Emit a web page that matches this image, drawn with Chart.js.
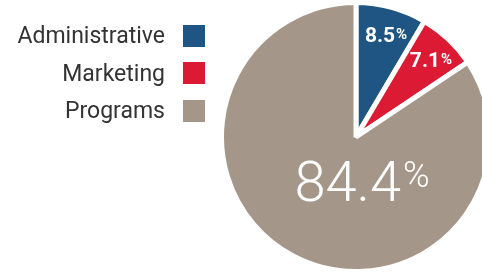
<!DOCTYPE html>
<html>
<head>
<meta charset="utf-8">
<script src="https://cdn.jsdelivr.net/npm/chart.js@4/dist/chart.umd.min.js"></script>
<style>
  html, body { margin: 0; padding: 0; background: #fff; overflow: hidden; }
  #wrap { position: relative; width: 482px; height: 273px; overflow: hidden; }
  #pie { position: absolute; left: 0; top: 0; }
  #legend { position: absolute; left: 0; top: 17px; width: 205px; font-family: Roboto, sans-serif; font-size: 23px; color: #333; }
  .row { display: flex; justify-content: flex-end; align-items: center; height: 37.5px; }
  .box { width: 22px; height: 22px; margin-left: 18px; }
</style>
</head>
<body>
<div id="wrap">
  <canvas id="pie" width="500" height="273" style="width:500px;height:273px"></canvas>
  <div id="legend"></div>
</div>
<script>
const labels = ["Administrative", "Marketing", "Programs"];
const shares = [8.5, 7.1, 84.4];
const colors = ["#1f5582", "#dc1a33", "#a49789"];

// legend built from the same arrays
const legend = document.getElementById("legend");
labels.forEach((name, i) => {
    const row = document.createElement("div");
    row.className = "row";
    const txt = document.createElement("span");
    txt.textContent = name;
    const box = document.createElement("span");
    box.className = "box";
    box.style.background = colors[i];
    row.appendChild(txt);
    row.appendChild(box);
    legend.appendChild(row);
});

function drawPct(ctx, value, x, y, weight, size, pctSize, gap) {
    const num = value.toFixed(1);
    ctx.font = weight + " " + size + "px Roboto";
    const w1 = ctx.measureText(num).width;
    ctx.font = weight + " " + pctSize + "px Roboto";
    const w2 = ctx.measureText("%").width;
    const left = x - (w1 + gap + w2) / 2;
    const base = y + size * 0.711 / 2;
    ctx.textAlign = "left";
    ctx.textBaseline = "alphabetic";
    ctx.font = weight + " " + size + "px Roboto";
    ctx.fillText(num, left, base);
    ctx.font = weight + " " + pctSize + "px Roboto";
    ctx.fillText("%", left + w1 + gap, base - 0.711 * (size - pctSize) + 1);
}

const sliceLabels = {
    id: "sliceLabels",
    afterDatasetsDraw(chart) {
        const ctx = chart.ctx;
        const meta = chart.getDatasetMeta(0);
        const big = shares.indexOf(Math.max(...shares));
        ctx.save();
        ctx.fillStyle = "#fff";
        meta.data.forEach((arc, i) => {
            const p = arc.getProps(["x", "y", "startAngle", "endAngle", "outerRadius"], true);
            const r = p.outerRadius;
            if (i === big) {
                drawPct(ctx, shares[i], p.x + 0.045 * r, p.y + 0.325 * r, "300", 56, 36, 2);
            } else {
                const mid = (p.startAngle + p.endAngle) / 2;
                const d = 0.79 * r;
                drawPct(ctx, shares[i], p.x + Math.cos(mid) * d + 2, p.y + Math.sin(mid) * d, "bold", 21, 15, 1);
            }
        });
        ctx.restore();
    }
};

new Chart(document.getElementById("pie"), {
    type: "pie",
    data: {
        labels: labels,
        datasets: [{
            data: shares,
            backgroundColor: colors,
            borderColor: "#fff",
            borderWidth: 5,
            radius: 134.5
        }]
    },
    options: {
        responsive: false,
        animation: false,
        layout: { padding: { left: 212, right: 0, top: 1, bottom: 0 } },
        plugins: {
            legend: { display: false },
            tooltip: { enabled: false }
        }
    },
    plugins: [sliceLabels]
});
</script>
</body>
</html>
